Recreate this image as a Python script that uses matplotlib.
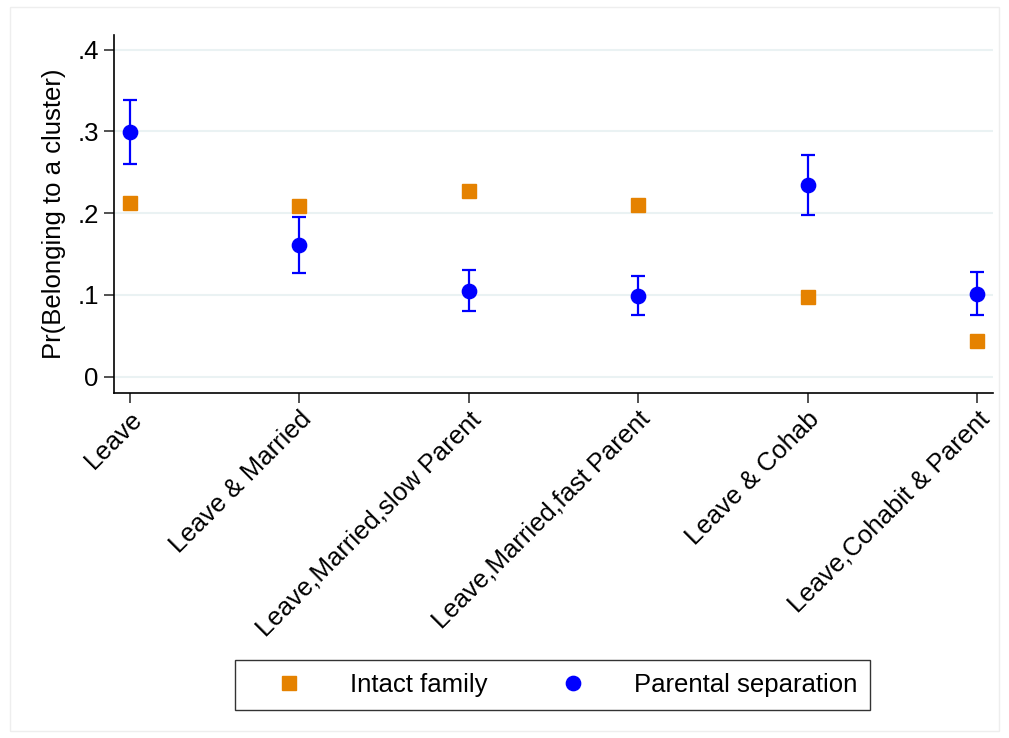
import numpy as np
import matplotlib.pyplot as plt
from matplotlib.patches import Rectangle

plt.rcParams['font.family'] = ['Liberation Sans', 'DejaVu Sans']

categories = ["Leave", "Leave & Married", "Leave,Married,slow Parent",
              "Leave,Married,fast Parent", "Leave & Cohab", "Leave,Cohabit & Parent"]
intact = [0.212, 0.209, 0.227, 0.210, 0.098, 0.044]
separation = [0.299, 0.161, 0.105, 0.099, 0.234, 0.101]
sep_lo = [0.260, 0.127, 0.080, 0.075, 0.198, 0.075]
sep_hi = [0.338, 0.195, 0.130, 0.123, 0.271, 0.128]
yticks = [0, 0.1, 0.2, 0.3, 0.4]
ytick_labels = ["0", ".1", ".2", ".3", ".4"]

orange = "#E58200"
blue = "#0000FF"
fs = 18.5

fig = plt.figure(figsize=(10.09, 7.38), dpi=100)
ax = fig.add_axes([0.113, 0.4675, 0.871, 0.485])

x = np.arange(1, len(categories) + 1)
sep = np.array(separation)
yerr = [sep - np.array(sep_lo), np.array(sep_hi) - sep]

ax.plot(x, intact, "s", color=orange, markersize=10.3, linestyle="none",
        label="Intact family", zorder=3)
ax.errorbar(x, sep, yerr=yerr, fmt="o", color=blue, ecolor=blue,
            markersize=10.3, elinewidth=1.6, capsize=4.8, capthick=1.6, zorder=4)
ax.plot([], [], "o", color=blue, markersize=10.3, linestyle="none",
        label="Parental separation")

ax.set_xlim(0.906, 6.094)
ax.set_ylim(-0.02, 0.418)
ax.set_yticks(yticks)
ax.set_yticklabels(ytick_labels, fontsize=fs)
ax.set_xticks(x)
ax.set_xticklabels(categories, rotation=45, ha="right", va="top",
                   rotation_mode="anchor", fontsize=fs)
ax.set_ylabel("Pr(Belonging to a cluster)", fontsize=fs, labelpad=8)

for yv in yticks:
    ax.axhline(yv, color="#EAF2F3", linewidth=1.5, zorder=0)

for side in ["top", "right"]:
    ax.spines[side].set_visible(False)
ax.spines["left"].set_linewidth(1.2)
ax.spines["bottom"].set_linewidth(1.2)
ax.tick_params(axis="both", length=7, width=1.2, color="#333333")
ax.tick_params(axis="y", pad=4)
ax.tick_params(axis="x", pad=3)

handles, labels = ax.get_legend_handles_labels()
leg = fig.legend(handles, labels, loc="center", ncol=2,
                 bbox_to_anchor=(0.5476, 0.0718), fontsize=fs, frameon=True,
                 fancybox=False, edgecolor="black", handletextpad=0.8,
                 columnspacing=1.7, borderpad=0.5, handlelength=3.2)
leg.get_frame().set_linewidth(1.0)

fig.patches.append(Rectangle((0.01, 0.01), 0.98, 0.98, transform=fig.transFigure,
                             fill=False, edgecolor="#EEEEEE", linewidth=1))

fig.savefig("out.png", dpi=100)
